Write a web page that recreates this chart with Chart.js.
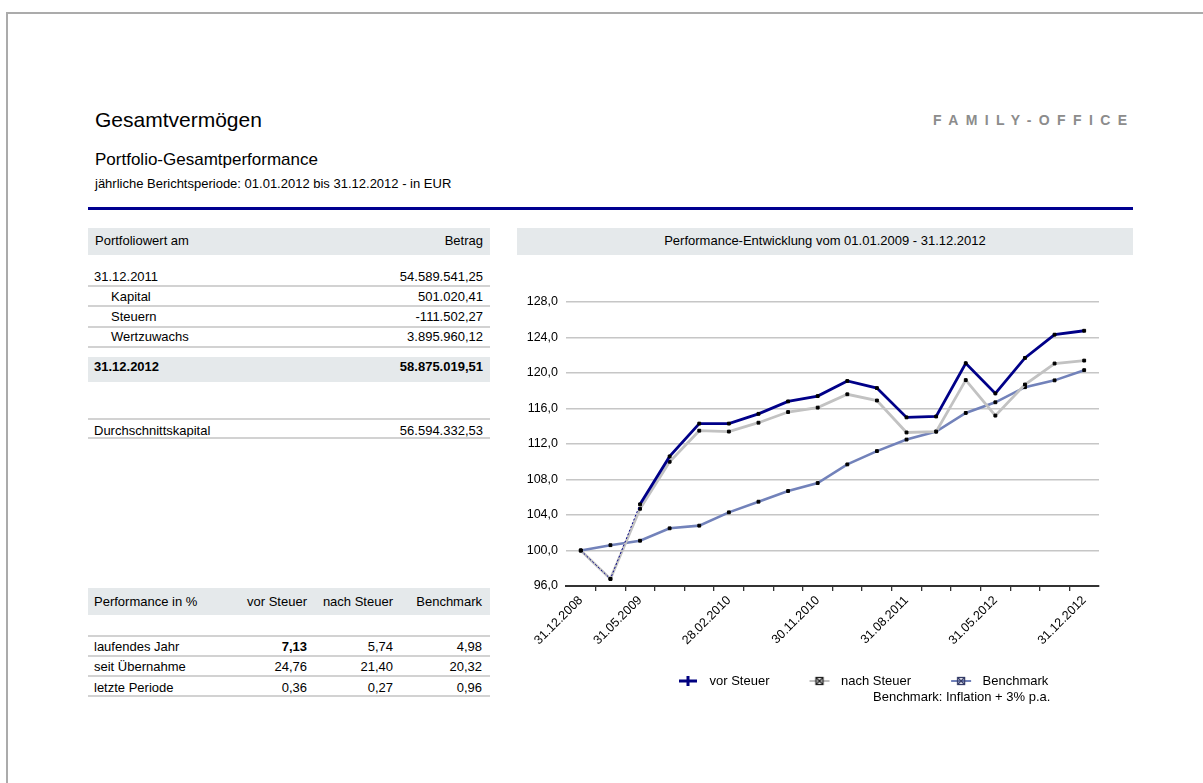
<!DOCTYPE html>
<html><head><meta charset="utf-8">
<script src="https://cdn.jsdelivr.net/npm/chart.js@4/dist/chart.umd.min.js"></script>
<style>
html,body{margin:0;padding:0;background:#fff;}
body{width:1203px;height:783px;position:relative;overflow:hidden;font-family:"Liberation Sans",Arial,sans-serif;color:#000;}
.frame{position:absolute;left:6px;top:12px;right:0;bottom:0;border-top:2px solid #ababab;border-left:2px solid #ababab;}
.t{position:absolute;white-space:nowrap;font-size:13px;line-height:16px;}
.b{font-weight:bold;}
.bar{position:absolute;background:#e5e9eb;}
.ln{position:absolute;height:2px;background:#d2d2d2;left:88px;width:402px;}
</style></head>
<body>
<div class="frame"></div>
<div class="t" style="left:95px;top:107px;font-size:21px;line-height:26px;">Gesamtvermögen</div>
<div class="t b" style="left:933px;top:112px;font-size:14px;letter-spacing:7.4px;color:#8c8c8c;">FAMILY-OFFICE</div>
<div class="t" style="left:95px;top:150px;font-size:17px;line-height:20px;">Portfolio-Gesamtperformance</div>
<div class="t" style="left:95px;top:176px;font-size:13px;">jährliche Berichtsperiode: 01.01.2012 bis 31.12.2012 - in EUR</div>
<div style="position:absolute;left:88px;top:207px;width:1045px;height:2.5px;background:#000090;"></div>

<!-- left table -->
<div class="bar" style="left:88px;top:228px;width:402px;height:27px;"></div>
<div class="t" style="left:95px;top:233px;">Portfoliowert am</div>
<div class="t" style="right:720px;top:233px;">Betrag</div>
<div class="t" style="left:94px;top:269px;">31.12.2011</div>
<div class="t" style="right:720px;top:269px;">54.589.541,25</div>
<div class="ln" style="top:285px;"></div>
<div class="t" style="left:111px;top:289px;">Kapital</div>
<div class="t" style="right:720px;top:289px;">501.020,41</div>
<div class="ln" style="top:305px;"></div>
<div class="t" style="left:111px;top:309px;">Steuern</div>
<div class="t" style="right:720px;top:309px;">-111.502,27</div>
<div class="ln" style="top:326px;"></div>
<div class="t" style="left:111px;top:329px;">Wertzuwachs</div>
<div class="t" style="right:720px;top:329px;">3.895.960,12</div>
<div class="ln" style="top:346px;"></div>
<div class="bar" style="left:88px;top:357px;width:402px;height:25px;"></div>
<div class="t b" style="left:94px;top:359px;">31.12.2012</div>
<div class="t b" style="right:720px;top:359px;">58.875.019,51</div>
<div class="ln" style="top:418px;"></div>
<div class="t" style="left:94px;top:423px;">Durchschnittskapital</div>
<div class="t" style="right:720px;top:423px;">56.594.332,53</div>
<div class="ln" style="top:437px;"></div>

<!-- performance table -->
<div class="bar" style="left:88px;top:588px;width:402px;height:27px;"></div>
<div class="t" style="left:94px;top:594px;">Performance in %</div>
<div class="t" style="right:896px;top:594px;">vor Steuer</div>
<div class="t" style="right:810px;top:594px;">nach Steuer</div>
<div class="t" style="right:721px;top:594px;">Benchmark</div>
<div class="ln" style="top:635px;"></div>
<div class="t" style="left:94px;top:639px;">laufendes Jahr</div>
<div class="t b" style="right:896px;top:639px;">7,13</div>
<div class="t" style="right:810px;top:639px;">5,74</div>
<div class="t" style="right:721px;top:639px;">4,98</div>
<div class="ln" style="top:655px;"></div>
<div class="t" style="left:94px;top:659px;">seit Übernahme</div>
<div class="t" style="right:896px;top:659px;">24,76</div>
<div class="t" style="right:810px;top:659px;">21,40</div>
<div class="t" style="right:721px;top:659px;">20,32</div>
<div class="ln" style="top:675px;"></div>
<div class="t" style="left:94px;top:680px;">letzte Periode</div>
<div class="t" style="right:896px;top:680px;">0,36</div>
<div class="t" style="right:810px;top:680px;">0,27</div>
<div class="t" style="right:721px;top:680px;">0,96</div>
<div class="ln" style="top:695px;"></div>

<!-- chart panel -->
<div class="bar" style="left:517px;top:228px;width:616px;height:27px;"></div>
<div class="t" style="left:517px;width:616px;text-align:center;top:233px;">Performance-Entwicklung vom 01.01.2009 - 31.12.2012</div>
<div style="position:absolute;left:517px;top:258px;width:616px;height:450px;"><canvas id="c" width="616" height="450"></canvas></div>
<div class="t" style="left:873px;top:689px;">Benchmark: Inflation + 3% p.a.</div>

<script>
const categories = ['31.12.2008','28.02.2009','31.05.2009','31.08.2009','30.11.2009','28.02.2010','31.05.2010','31.08.2010','30.11.2010','28.02.2011','31.05.2011','31.08.2011','30.11.2011','29.02.2012','31.05.2012','31.08.2012','30.11.2012','31.12.2012'];
const shownTickLabels = ['31.12.2008','31.05.2009','28.02.2010','30.11.2010','31.08.2011','31.05.2012','31.12.2012'];
const vorSteuer  = [100.0, 96.8, 105.2, 110.6, 114.3, 114.3, 115.4, 116.8, 117.4, 119.1, 118.3, 115.0, 115.1, 121.1, 117.7, 121.7, 124.32, 124.76];
const nachSteuer = [100.0, 96.8, 104.7, 110.0, 113.5, 113.4, 114.4, 115.6, 116.1, 117.6, 116.9, 113.3, 113.4, 119.2, 115.2, 118.7, 121.07, 121.40];
const benchmark  = [100.0, 100.6, 101.1, 102.5, 102.8, 104.3, 105.5, 106.7, 107.6, 109.7, 111.2, 112.5, 113.4, 115.5, 116.7, 118.4, 119.17, 120.32];
const seriesNames = ['vor Steuer','nach Steuer','Benchmark'];
const yMin = 96, yMax = 128, yStep = 4;

const FONT = '"Liberation Sans", Arial, sans-serif';
Chart.defaults.font.family = FONT;
Chart.defaults.color = '#000';

function icon(kind){
  const c = document.createElement('canvas'); c.width = 22; c.height = 12;
  const g = c.getContext('2d');
  if(kind === 0){
    g.fillStyle = '#000080';
    g.fillRect(2,4.5,18,3);
    g.fillRect(9.5,1,3,10);
  } else {
    g.strokeStyle = kind === 1 ? '#c0c0c0' : '#7080b8';
    g.lineWidth = 2;
    g.beginPath(); g.moveTo(1,6); g.lineTo(21,6); g.stroke();
    g.strokeStyle = kind === 1 ? '#222' : '#333a66';
    g.lineWidth = 1.3;
    g.strokeRect(7.5,2.5,7,7);
    g.beginPath(); g.moveTo(7.5,2.5); g.lineTo(14.5,9.5); g.moveTo(14.5,2.5); g.lineTo(7.5,9.5); g.stroke();
  }
  return c;
}
const legendIcons = [icon(0), icon(1), icon(2)];

const LEG_PAD = 35, LEG_FONT = 13;
const legendPlace = {
  id: 'legendPlace',
  afterLayout(chart){
    const L = chart.legend; if(!L) return;
    L.left = 156 - LEG_PAD; L.right = L.left + 1000;
    L.top = 423 - LEG_PAD - LEG_FONT/2; L.bottom = L.top + 120;
  }
};

const common = { pointStyle:'rect', pointRadius:2, pointBackgroundColor:'#000', pointBorderColor:'#000', pointBorderWidth:1, tension:0, fill:false };

new Chart(document.getElementById('c'), {
  type: 'line',
  data: {
    labels: categories,
    datasets: [
      Object.assign({}, common, { label: seriesNames[0], data: vorSteuer, borderColor:'#000088', backgroundColor:'#000088', borderWidth:2.8,
        segment: { borderWidth: ctx => ctx.p0DataIndex < 2 ? 1 : undefined, borderDash: ctx => ctx.p0DataIndex < 2 ? [2,2] : undefined } }),
      Object.assign({}, common, { label: seriesNames[1], data: nachSteuer, borderColor:'#c2c2c2', backgroundColor:'#c2c2c2', borderWidth:2.8 }),
      Object.assign({}, common, { label: seriesNames[2], data: benchmark, borderColor:'#7282ba', backgroundColor:'#7282ba', borderWidth:2.6 })
    ]
  },
  options: {
    responsive: false, animation: false, events: [],
    layout: { padding: { top: 44, right: 34, bottom: 0, left: 0 } },
    plugins: {
      title: { display: false }, tooltip: { enabled: false },
      legend: {
        position: 'bottom', align: 'start', maxHeight: 30,
        labels: {
          usePointStyle: true, pointStyleWidth: 30, padding: LEG_PAD,
          font: { size: LEG_FONT, family: FONT }, color: '#000',
          generateLabels: chart => Chart.defaults.plugins.legend.labels.generateLabels(chart).map((l,i) => Object.assign(l, { pointStyle: legendIcons[i] }))
        }
      }
    },
    scales: {
      x: {
        offset: true,
        grid: { offset: true, drawOnChartArea: false, drawTicks: true, tickLength: 5, lineWidth: 1.3,
          color: ctx => (ctx.type === 'tick' && ctx.index > 0) ? '#333' : 'rgba(0,0,0,0)' },
        border: { display: true, color: '#333', width: 2 },
        ticks: { autoSkip: false, maxRotation: 45, minRotation: 45, padding: 2, color: '#000',
          font: { size: 12.5, family: FONT },
          callback: (v, i) => shownTickLabels.includes(categories[i]) ? categories[i] : '' },
        afterFit: s => { s.height = 92; }
      },
      y: {
        min: yMin, max: yMax,
        grid: { color: '#c6c6c6', lineWidth: 1.5, drawTicks: false },
        border: { display: false },
        ticks: { stepSize: yStep, padding: 8, color: '#000', font: { size: 12.5, family: FONT },
          callback: v => Number(v).toFixed(1).replace('.', ',') },
        afterFit: s => { s.width = 49; }
      }
    }
  },
  plugins: [legendPlace]
});
</script>
</body></html>
